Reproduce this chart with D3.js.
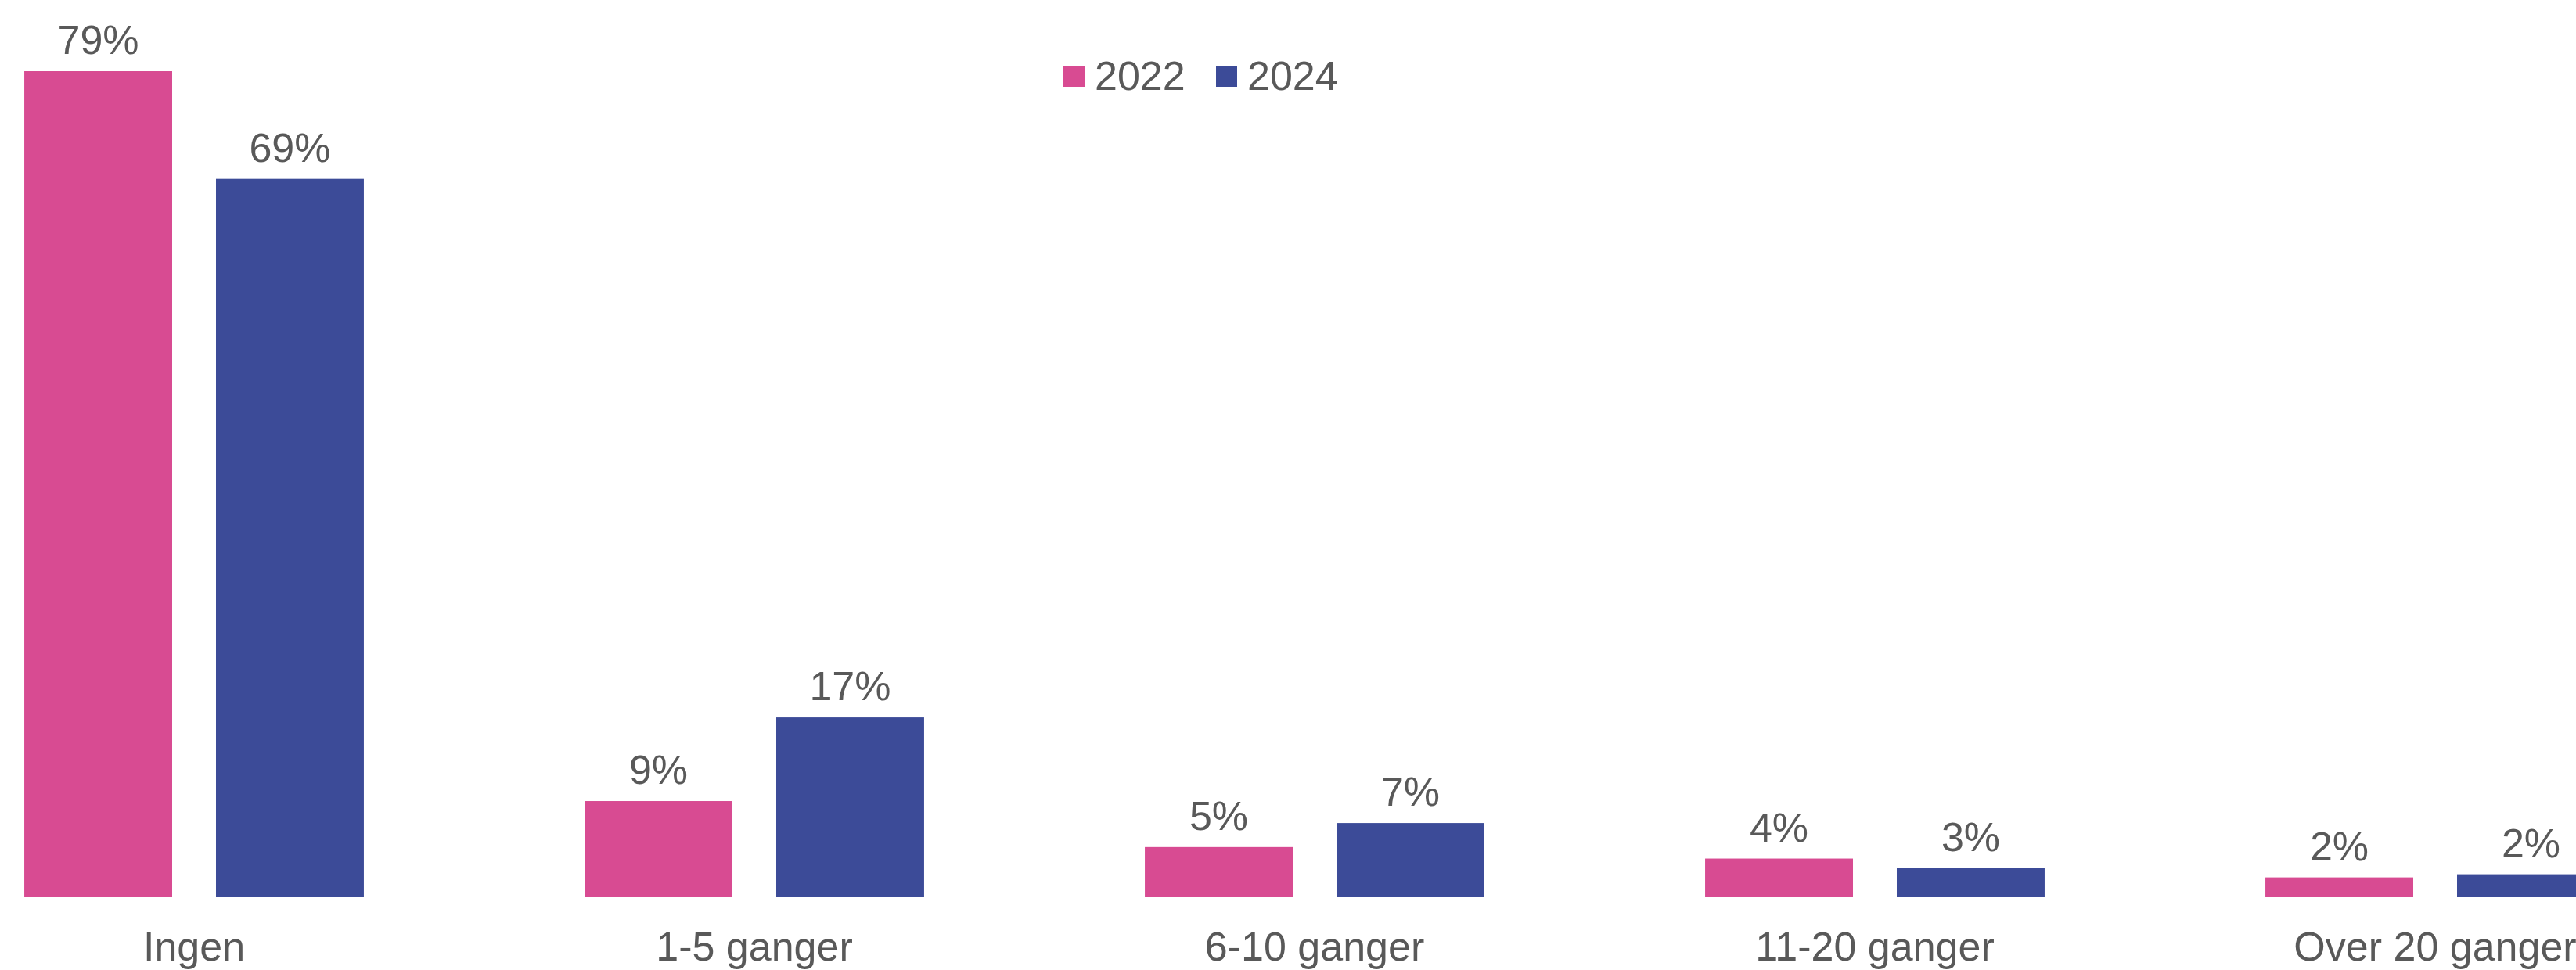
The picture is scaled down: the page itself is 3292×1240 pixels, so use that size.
<!DOCTYPE html>
<html>
<head>
<meta charset="utf-8">
<script src="https://cdn.jsdelivr.net/npm/d3@7"></script>
<style>
  html, body { margin: 0; padding: 0; background: #ffffff; overflow: hidden; }
  svg { display: block; }
  text { font-family: "Liberation Sans", Arial, Helvetica, sans-serif; fill: #595959; }
</style>
</head>
<body>
<svg id="chart" width="3292" height="1240"></svg>
<script>
const categories = ["Ingen", "1-5 ganger", "6-10 ganger", "11-20 ganger", "Over 20 ganger"];
const seriesNames = ["2022", "2024"];
const values2022 = [79, 9.2, 4.8, 3.7, 1.9];
const values2024 = [68.7, 17.2, 7.1, 2.8, 2.2];
const colors = ["#D84B92", "#3C4B98"];

const W = 3292, H = 1240;
const svg = d3.select("#chart");

const x0 = d3.scaleBand()
  .domain(categories)
  .range([-110, 3470])
  .paddingInner(0.394)
  .paddingOuter(0.197);

const x1 = d3.scaleBand()
  .domain(seriesNames)
  .range([0, x0.bandwidth()])
  .paddingInner(0.2286);

const y = d3.scaleLinear()
  .domain([0, 79])
  .range([1147, 91]);

const color = d3.scaleOrdinal().domain(seriesNames).range(colors);
const fmt = v => d3.format(".0f")(v) + "%";

const rows = categories.map((c, i) => ({
  cat: c,
  items: [
    { s: "2022", v: values2022[i] },
    { s: "2024", v: values2024[i] }
  ]
}));

const g = svg.append("g");

const groups = g.selectAll("g.grp")
  .data(rows)
  .join("g")
  .attr("class", "grp")
  .attr("transform", d => `translate(${x0(d.cat)},0)`);

groups.selectAll("rect")
  .data(d => d.items)
  .join("rect")
  .attr("x", d => x1(d.s))
  .attr("y", d => y(d.v))
  .attr("width", x1.bandwidth())
  .attr("height", d => y(0) - y(d.v))
  .attr("fill", d => color(d.s));

groups.selectAll("text.val")
  .data(d => d.items)
  .join("text")
  .attr("class", "val")
  .attr("x", d => x1(d.s) + x1.bandwidth() / 2)
  .attr("y", d => y(d.v) - 22)
  .attr("text-anchor", "middle")
  .attr("font-size", 52)
  .text(d => fmt(d.v));

// category axis labels
const xAxis = d3.axisBottom(x0).tickSize(0).tickPadding(0);
const axisG = g.append("g")
  .attr("transform", `translate(0,${y(0)})`)
  .call(xAxis);
axisG.select(".domain").remove();
axisG.selectAll(".tick text")
  .attr("y", 81)
  .attr("dy", 0)
  .attr("font-size", 52)
  .attr("fill", "#595959")
  .style("font-family", "'Liberation Sans', Arial, sans-serif");

// legend
const legendX = [1359, 1554];
const legend = svg.append("g");
seriesNames.forEach((s, i) => {
  legend.append("rect")
    .attr("x", legendX[i])
    .attr("y", 84)
    .attr("width", 27)
    .attr("height", 27)
    .attr("fill", color(s));
  legend.append("text")
    .attr("x", legendX[i] + 40)
    .attr("y", 115)
    .attr("font-size", 52)
    .text(s);
});
</script>
</body>
</html>
